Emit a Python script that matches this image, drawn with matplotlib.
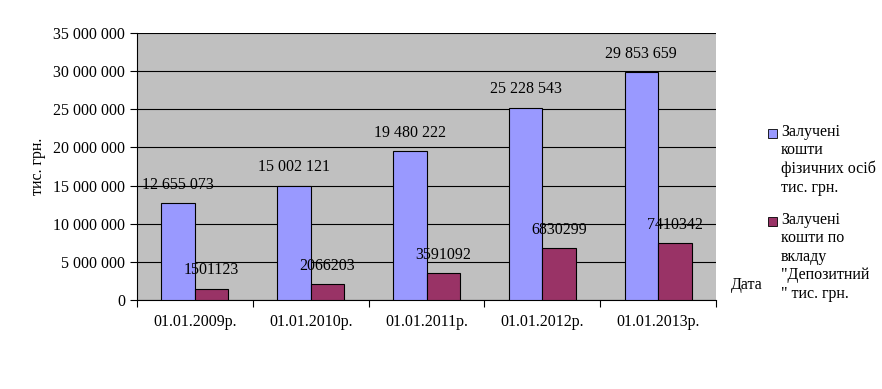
import numpy as np
import matplotlib.pyplot as plt
from matplotlib.patches import Rectangle

plt.rcParams['font.family'] = ['Liberation Serif', 'DejaVu Serif']

dates = ['01.01.2009р.', '01.01.2010р.', '01.01.2011р.', '01.01.2012р.', '01.01.2013р.']
individuals = [12655073, 15002121, 19480222, 25228543, 29853659]
deposit = [1501123, 2066203, 3591092, 6830299, 7410342]
individuals_labels = ['12 655 073', '15 002 121', '19 480 222', '25 228 543', '29 853 659']
deposit_labels = ['1501123', '2066203', '3591092', '6830299', '7410342']
legend_labels = ['Залучені\nкошти\nфізичних осіб\nтис. грн.',
                 'Залучені\nкошти по\nвкладу\n"Депозитний\n" тис. грн.']

blue = '#9999ff'
purple = '#993366'
fs = 11.5

fig = plt.figure(figsize=(8.82, 3.89), dpi=100)
ax = fig.add_axes([137 / 882, 1 - 300 / 389, (716 - 137) / 882, (300 - 33) / 389])

x = np.arange(len(dates))
w = 0.29
ax.bar(x - w / 2, individuals, w, color=blue, edgecolor='black', linewidth=0.8, zorder=3)
ax.bar(x + w / 2, deposit, w, color=purple, edgecolor='black', linewidth=0.8, zorder=3)

for xi, v, s in zip(x, individuals, individuals_labels):
    ax.annotate(s, (xi - w / 2, v), xytext=(0, 13), textcoords='offset points',
                ha='center', va='center', fontsize=fs, zorder=4)
for xi, v, s in zip(x, deposit, deposit_labels):
    ax.annotate(s, (xi + w / 2, v), xytext=(0, 13), textcoords='offset points',
                ha='center', va='center', fontsize=fs, zorder=4)

ax.set_facecolor('#c0c0c0')
ax.set_xlim(-0.5, len(dates) - 0.5)
ax.set_ylim(0, 35000000)
ax.set_yticks(np.arange(0, 35000001, 5000000))
ax.set_yticklabels([f'{v:,}'.replace(',', ' ') for v in range(0, 35000001, 5000000)], fontsize=fs)
ax.yaxis.grid(True, color='black', linewidth=0.8, zorder=0)
ax.set_xticks(np.arange(-0.5, len(dates), 1))
ax.set_xticklabels([])
ax.set_xticks(x, minor=True)
ax.set_xticklabels(dates, minor=True, fontsize=fs)
ax.tick_params(axis='x', which='minor', length=0, pad=10)
ax.tick_params(axis='x', which='major', length=5, direction='out')
ax.tick_params(axis='y', length=5, direction='out')
for side in ['top', 'right']:
    ax.spines[side].set_visible(False)
ax.spines['left'].set_linewidth(0.8)
ax.spines['bottom'].set_linewidth(0.8)

ax.set_ylabel('тис. грн.', fontsize=fs, labelpad=5)
fig.text(731 / 882, 1 - 285 / 389, 'Дата', fontsize=fs, va='center', ha='left')

# legend drawn by hand so the swatch sits next to the first line
for col, lab, ytop in zip([blue, purple], legend_labels, [124, 212]):
    sq = 9
    fig.add_artist(Rectangle((768 / 882, 1 - (ytop + 5 + sq) / 389), sq / 882, sq / 389,
                             transform=fig.transFigure, facecolor=col, edgecolor='black',
                             linewidth=0.6))
    fig.text(781 / 882, 1 - ytop / 389, lab, fontsize=fs, va='top', ha='left',
             linespacing=1.2)

fig.savefig('out.png', dpi=100)
